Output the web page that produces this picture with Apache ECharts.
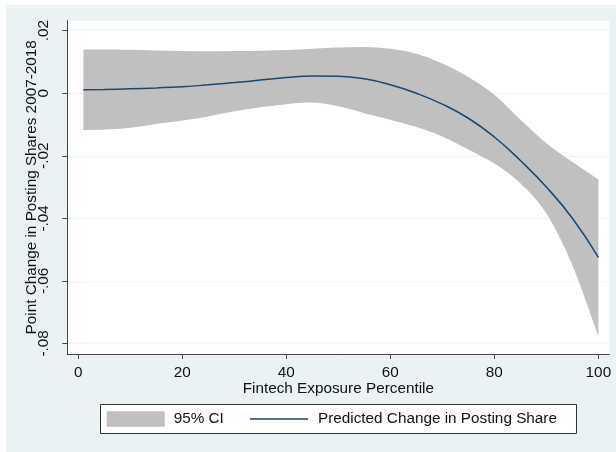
<!DOCTYPE html>
<html>
<head>
<meta charset="utf-8">
<script src="https://cdn.jsdelivr.net/npm/echarts@6/dist/echarts.min.js"></script>
<style>
html,body{margin:0;padding:0;background:#ffffff;}
#chart{width:616px;height:452px;}
</style>
</head>
<body>
<div id="chart"></div>
<script>
// Data
const xValues = [1, 5, 10, 15, 20, 25, 30, 35, 40, 45, 50, 55, 60, 65, 70, 75, 80, 85, 90, 95, 100];
const predicted = [0.0011, 0.0012, 0.0014, 0.0017, 0.0021, 0.0027, 0.0034, 0.0042, 0.0050, 0.0055, 0.0054, 0.0046, 0.0027, 0.0000, -0.0035, -0.0080, -0.0140, -0.0215, -0.0300, -0.0400, -0.0525];
const upperCI = [0.0140, 0.0140, 0.0139, 0.0137, 0.0135, 0.0134, 0.0135, 0.0136, 0.0138, 0.0142, 0.0146, 0.0148, 0.0142, 0.0126, 0.0095, 0.0052, -0.0005, -0.0085, -0.0160, -0.0220, -0.0275];
const lowerCI = [-0.0118, -0.0116, -0.0110, -0.0098, -0.0087, -0.0074, -0.0058, -0.0045, -0.0035, -0.0030, -0.0042, -0.0064, -0.0085, -0.0108, -0.0138, -0.0180, -0.0225, -0.0288, -0.0385, -0.0550, -0.0777];
const xTicks = [0, 20, 40, 60, 80, 100];
const yTicks = [-0.08, -0.06, -0.04, -0.02, 0, 0.02];
const ciName = '95% CI';
const lineName = 'Predicted Change in Posting Share';

const FONT = "'Liberation Sans', Arial, sans-serif";
const FS = 15.3;
const TXT = '#111111';
const chart = echarts.init(document.getElementById('chart'), null, {renderer: 'canvas'});

const bandData = xValues.map((x, i) => [x, lowerCI[i], upperCI[i]]);
const lineData = xValues.map((x, i) => [x, predicted[i]]);

function fmtY(v) {
  const r = Math.round(v * 100) / 100;
  if (r === 0) return '0';
  return (r < 0 ? '-' : '') + Math.abs(r).toFixed(2).replace(/^0/, '');
}

// Catmull-Rom style smooth path through pixel points (rendering only)
function smoothSegs(pts) {
  let d = '';
  for (let i = 0; i < pts.length - 1; i++) {
    const p0 = pts[Math.max(0, i - 1)], p1 = pts[i], p2 = pts[i + 1], p3 = pts[Math.min(pts.length - 1, i + 2)];
    const c1x = p1[0] + (p2[0] - p0[0]) / 6, c1y = p1[1] + (p2[1] - p0[1]) / 6;
    const c2x = p2[0] - (p3[0] - p1[0]) / 6, c2y = p2[1] - (p3[1] - p1[1]) / 6;
    d += ' C' + c1x + ',' + c1y + ' ' + c2x + ',' + c2y + ' ' + p2[0] + ',' + p2[1];
  }
  return d;
}

function renderBand(params, api) {
  if (params.dataIndex !== 0) return;
  const n = params.dataInsideLength !== undefined ? bandData.length : bandData.length;
  const up = [], lo = [];
  for (let i = 0; i < bandData.length; i++) {
    up.push(api.coord([bandData[i][0], bandData[i][2]]));
    lo.push(api.coord([bandData[i][0], bandData[i][1]]));
  }
  lo.reverse();
  let d = 'M' + up[0][0] + ',' + up[0][1] + smoothSegs(up);
  d += ' L' + lo[0][0] + ',' + lo[0][1] + smoothSegs(lo) + ' Z';
  return {
    type: 'path',
    shape: {pathData: d},
    style: {fill: '#c0c0c0', stroke: null}
  };
}

chart.setOption({
  animation: false,
  backgroundColor: '#ffffff',
  graphic: [
    {
      type: 'rect', z: -10, silent: true,
      shape: {x: 6, y: 5, width: 610, height: 447},
      style: {fill: '#eaf2f3'}
    },
    {
      type: 'rect', z: 0, silent: true,
      shape: {x: 100.5, y: 404.5, width: 476, height: 29},
      style: {fill: '#ffffff', stroke: '#333333', lineWidth: 1}
    }
  ],
  grid: {
    left: 67.3, right: 6.7, top: 20.7, bottom: 98,
    show: true, backgroundColor: '#ffffff', borderWidth: 0,
    containLabel: false
  },
  legend: [
    {
      left: 106.7, top: 411, padding: 0, z: 5,
      itemWidth: 58, itemHeight: 15.5,
      textStyle: {fontFamily: FONT, fontSize: FS, lineHeight: 16, color: TXT, padding: [0, 0, 0, 4]},
      data: [{name: ciName, icon: 'rect', itemStyle: {color: '#c0c0c0', borderWidth: 0}}]
    },
    {
      left: 250, top: 411, padding: 0, z: 5,
      itemWidth: 58, itemHeight: 1.5,
      textStyle: {fontFamily: FONT, fontSize: FS, lineHeight: 16, color: TXT, padding: [0, 0, 0, 5]},
      data: [{name: lineName, icon: 'rect', itemStyle: {color: '#1a476f', borderWidth: 0}}]
    }
  ],
  xAxis: {
    type: 'value', min: -2.1, max: 102.1,
    name: 'Fintech Exposure Percentile', nameLocation: 'middle', nameGap: 27, nameMoveOverlap: false,
    nameTextStyle: {fontFamily: FONT, fontSize: FS, color: TXT},
    axisLine: {show: true, onZero: false, lineStyle: {color: '#444444', width: 1}},
    axisTick: {show: true, length: 5, customValues: xTicks, lineStyle: {color: '#444444'}},
    axisLabel: {customValues: xTicks, margin: 11, fontFamily: FONT, fontSize: FS, color: TXT},
    splitLine: {show: false}
  },
  yAxis: {
    type: 'value', min: -0.0834, max: 0.0232,
    name: 'Point Change in Posting Shares 2007-2018', nameLocation: 'middle', nameGap: 28, nameMoveOverlap: false,
    nameTextStyle: {fontFamily: FONT, fontSize: FS, color: TXT},
    axisLine: {show: true, onZero: false, lineStyle: {color: '#444444', width: 1}},
    axisTick: {show: true, length: 5, customValues: yTicks, lineStyle: {color: '#444444'}},
    axisLabel: {customValues: yTicks, rotate: 90, margin: 16, fontFamily: FONT, fontSize: FS, color: TXT, formatter: fmtY},
    splitLine: {show: true, lineStyle: {color: '#eaf2f3', width: 1}}
  },
  series: [
    {
      name: ciName, type: 'custom', data: bandData,
      encode: {x: 0, y: [1, 2]},
      renderItem: renderBand,
      itemStyle: {color: '#c0c0c0'},
      silent: true, z: 2
    },
    {
      name: lineName, type: 'line', data: lineData,
      smooth: true, symbol: 'none',
      itemStyle: {color: '#1a476f'},
      lineStyle: {color: '#1a476f', width: 1.5},
      silent: true, z: 3
    }
  ]
});
</script>
</body>
</html>
